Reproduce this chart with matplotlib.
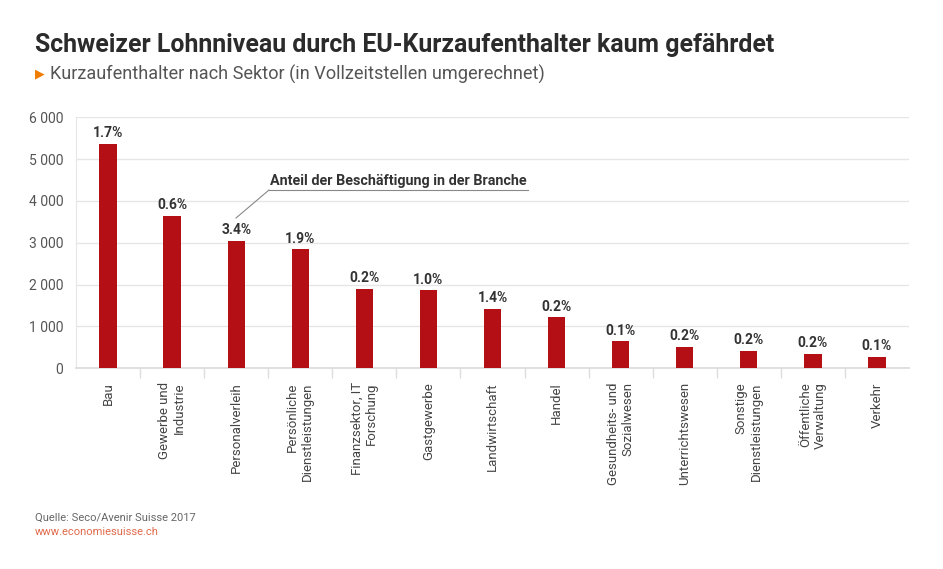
import matplotlib
matplotlib.use("Agg")
import matplotlib.pyplot as plt
import numpy as np

categories = ["Bau", "Gewerbe und\nIndustrie", "Personalverleih", "Persönliche\nDienstleistungen",
              "Finanzsektor, IT\nForschung", "Gastgewerbe", "Landwirtschaft", "Handel",
              "Gesundheits- und\nSozialwesen", "Unterrichtswesen", "Sonstige\nDienstleistungen",
              "Öffentliche\nVerwaltung", "Verkehr"]
values = [5370, 3645, 3050, 2850, 1900, 1860, 1420, 1220, 650, 515, 415, 345, 280]
shares = ["1.7%", "0.6%", "3.4%", "1.9%", "0.2%", "1.0%", "1.4%", "0.2%", "0.1%", "0.2%", "0.2%", "0.2%", "0.1%"]
yticks = [0, 1000, 2000, 3000, 4000, 5000, 6000]
ytick_labels = ["0", "1 000", "2 000", "3 000", "4 000", "5 000", "6 000"]

plt.rcParams['font.family'] = ['Roboto', 'DejaVu Sans']

W, H = 943, 569
fig = plt.figure(figsize=(W/100, H/100), dpi=100)
ax = fig.add_axes([76/W, 1-368.3/H, (909-76)/W, (368.3-117.3)/H])

x = np.arange(len(categories))
ax.bar(x, values, width=0.27, color="#b30f14", zorder=3)
ax.set_xlim(-0.5, len(categories)-0.5)
ax.set_ylim(0, 6000)
ax.set_yticks(yticks)
ax.set_yticklabels(ytick_labels, color="#555555", fontsize=10)
ax.grid(axis="y", color="#e6e6e6", linewidth=1, zorder=0)
ax.tick_params(axis="y", length=0, pad=9)

ax.set_xticks(x)
ax.set_xticklabels(categories, rotation=90, ha="center", va="top", multialignment="right",
                   fontsize=9.5, color="#444444")
ax.tick_params(axis="x", which="major", length=0, pad=10)
ax.set_xticks(np.arange(len(categories)+1)[1:-1] - 0.5, minor=True)
ax.tick_params(axis="x", which="minor", length=7, color="#dddddd", width=1)

for s in ["top", "right"]:
    ax.spines[s].set_visible(False)
ax.spines["left"].set_color("#e6e6e6")
ax.spines["bottom"].set_color("#dddddd")
ax.spines["bottom"].set_linewidth(1.3)

for xi, v, s in zip(x, values, shares):
    ax.annotate(s, (xi, v), xytext=(0, 2.5), textcoords="offset points", ha="center", va="bottom",
                fontsize=10, fontweight="bold", color="#333333")

# annotation
fig.text(270/W, 1-181/H, "Anteil der Beschäftigung in der Branche", fontsize=10.4, fontweight="bold",
         color="#333333", ha="left", va="center")
fig.add_artist(plt.Line2D([269/W, 528/W, ], [1-190/H, 1-190/H], color="#888888", linewidth=0.8))
fig.add_artist(plt.Line2D([269/W, 236/W], [1-190/H, 1-218/H], color="#888888", linewidth=0.8))

# titles
fig.text(35/W, 1-45/H, "Schweizer Lohnniveau durch EU-Kurzaufenthalter kaum gefährdet",
         fontsize=17.9, fontweight="bold", color="#2b2b2b", ha="left", va="center")
fig.text(35/W, 1-74/H, "\u25B6", fontsize=9, color="#f07d00", ha="left", va="center",
         family=["DejaVu Sans"])
fig.text(50/W, 1-74/H, "Kurzaufenthalter nach Sektor (in Vollzeitstellen umgerechnet)",
         fontsize=13.1, color="#555555", ha="left", va="center")

fig.text(35/W, 1-518/H, "Quelle: Seco/Avenir Suisse 2017", fontsize=8, color="#666666",
         ha="left", va="center")
fig.text(35/W, 1-532/H, "www.economiesuisse.ch", fontsize=8, color="#e0694a",
         ha="left", va="center")

fig.savefig("out.png", dpi=100)
